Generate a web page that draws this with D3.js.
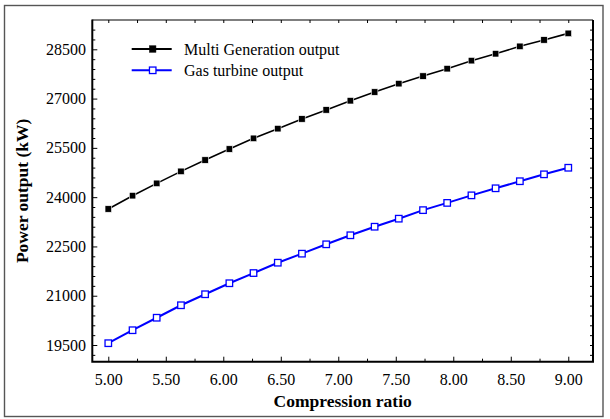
<!DOCTYPE html>
<html>
<head>
<meta charset="utf-8">
<script src="https://cdn.jsdelivr.net/npm/d3@7"></script>
<style>
  html, body { margin: 0; padding: 0; background: #fff; }
  svg { display: block; }
  text { font-family: "Liberation Serif", "Times New Roman", serif; fill: #000; }
</style>
</head>
<body>
<svg id="chart" width="610" height="419"></svg>
<script>
// Compression ratio sweep (20 equally spaced points from 5 to 9)
const compressionRatio = [5.000, 5.211, 5.421, 5.632, 5.842, 6.053, 6.263, 6.474, 6.684, 6.895,
                          7.105, 7.316, 7.526, 7.737, 7.947, 8.158, 8.368, 8.579, 8.789, 9.000];
// Power output, kW
const multiGenOutput = [23640, 24045, 24420, 24785, 25130, 25465, 25790, 26085, 26380, 26655,
                        26935, 27200, 27455, 27685, 27910, 28155, 28365, 28590, 28785, 28985];
const gasTurbineOutput = [19555, 19950, 20330, 20710, 21045, 21380, 21690, 22005, 22280, 22565,
                          22840, 23100, 23345, 23605, 23825, 24055, 24270, 24485, 24695, 24895];

const xTicks = [5.0, 5.5, 6.0, 6.5, 7.0, 7.5, 8.0, 8.5, 9.0];
const xMinorTicks = [5.25, 5.75, 6.25, 6.75, 7.25, 7.75, 8.25, 8.75];
const yTicks = [19500, 21000, 22500, 24000, 25500, 27000, 28500];
const yMinorTicks = d3.range(19200, 29400, 300).filter(v => !yTicks.includes(v));

const seriesNames = ["Multi Generation output", "Gas turbine output"];
const xTitle = "Compression ratio";
const yTitle = "Power output (kW)";

const svg = d3.select("#chart");
const plotL = 92.3, plotR = 593, plotT = 20, plotB = 361.7;

const x = d3.scaleLinear().domain([4.861, 9.215]).range([plotL, plotR]);
const y = d3.scaleLinear().domain([18992, 29392]).range([plotB, plotT]);

// outer frame
svg.append("rect")
  .attr("x", 4.5).attr("y", 5.5).attr("width", 598.5).attr("height", 411)
  .attr("fill", "none").attr("stroke", "#555").attr("stroke-width", 1.4);

// axes with inward ticks
const fmtX = d3.format(".2f");
const gx = svg.append("g").attr("transform", `translate(0,${plotB})`)
  .call(d3.axisBottom(x).tickValues(xTicks).tickFormat(fmtX).tickSizeInner(-5).tickSizeOuter(0).tickPadding(12));
const gxMinor = svg.append("g").attr("transform", `translate(0,${plotB})`)
  .call(d3.axisBottom(x).tickValues(xMinorTicks).tickFormat("").tickSizeInner(-3).tickSizeOuter(0));
const gxTop = svg.append("g").attr("transform", `translate(0,${plotT})`)
  .call(d3.axisTop(x).tickValues(xTicks.concat(xMinorTicks)).tickFormat("").tickSizeInner(-3).tickSizeOuter(0));

const gy = svg.append("g").attr("transform", `translate(${plotL},0)`)
  .call(d3.axisLeft(y).tickValues(yTicks).tickFormat(d3.format("d")).tickSizeInner(-5).tickSizeOuter(0).tickPadding(6.3));
const gyMinor = svg.append("g").attr("transform", `translate(${plotL},0)`)
  .call(d3.axisLeft(y).tickValues(yMinorTicks).tickFormat("").tickSizeInner(-3).tickSizeOuter(0));
const gyRight = svg.append("g").attr("transform", `translate(${plotR},0)`)
  .call(d3.axisRight(y).tickValues(yTicks.concat(yMinorTicks)).tickFormat("").tickSizeInner(-3).tickSizeOuter(0));

[gx, gxMinor, gxTop, gy, gyMinor, gyRight].forEach(g => {
  g.select(".domain").remove();
  g.selectAll(".tick line").attr("stroke", "#000").attr("stroke-width", 1);
  g.selectAll("text").attr("font-size", 16).attr("font-family", "Liberation Serif");
});

// plot frame
svg.append("path")
  .attr("d", `M${plotL},${plotT}H${plotR}`).attr("stroke", "#000").attr("stroke-width", 1.2);
svg.append("path")
  .attr("d", `M${plotR},${plotT}V${plotB}`).attr("stroke", "#000").attr("stroke-width", 2);
svg.append("path")
  .attr("d", `M${plotL},${plotT - 0.6}V${plotB}H${plotR + 1}`).attr("fill", "none")
  .attr("stroke", "#000").attr("stroke-width", 2);

// axis titles
svg.append("text")
  .attr("x", (plotL + plotR) / 2).attr("y", 407)
  .attr("text-anchor", "middle").attr("font-size", 17.5).attr("font-weight", "bold")
  .text(xTitle);
svg.append("text")
  .attr("transform", `translate(28,${(plotT + plotB) / 2}) rotate(-90)`)
  .attr("text-anchor", "middle").attr("font-size", 17.5).attr("font-weight", "bold")
  .text(yTitle);

// series
const series = [
  { name: seriesNames[0], values: multiGenOutput, color: "#000", width: 1.6, fill: "#000", size: 6.5 },
  { name: seriesNames[1], values: gasTurbineOutput, color: "#0000ff", width: 2, fill: "#fff", size: 6.5 }
];

const line = d3.line().x(d => x(d[0])).y(d => y(d[1]));

series.forEach(s => {
  const pts = compressionRatio.map((c, i) => [c, s.values[i]]);
  svg.append("path").datum(pts)
    .attr("d", line).attr("fill", "none")
    .attr("stroke", s.color).attr("stroke-width", s.width);
  svg.append("g").selectAll("rect").data(pts).join("rect")
    .attr("x", d => x(d[0]) - s.size / 2).attr("y", d => y(d[1]) - s.size / 2)
    .attr("width", s.size).attr("height", s.size)
    .attr("fill", s.fill)
    .attr("stroke", s.fill === "#fff" ? s.color : "#fff")
    .attr("stroke-width", s.fill === "#fff" ? 1.3 : 0.6);
});

// legend
const legend = svg.append("g");
series.forEach((s, i) => {
  const ly = 49 + i * 21.3;
  legend.append("line")
    .attr("x1", 131.7).attr("x2", 171.7).attr("y1", ly).attr("y2", ly)
    .attr("stroke", s.color).attr("stroke-width", 2);
  legend.append("rect")
    .attr("x", 152.7 - s.size / 2).attr("y", ly - s.size / 2)
    .attr("width", s.size).attr("height", s.size)
    .attr("fill", s.fill)
    .attr("stroke", s.fill === "#fff" ? s.color : "#000")
    .attr("stroke-width", s.fill === "#fff" ? 1.3 : 0.5);
  legend.append("text")
    .attr("x", 184).attr("y", ly + 5.5)
    .attr("font-size", 16)
    .text(s.name);
});
</script>
</body>
</html>
